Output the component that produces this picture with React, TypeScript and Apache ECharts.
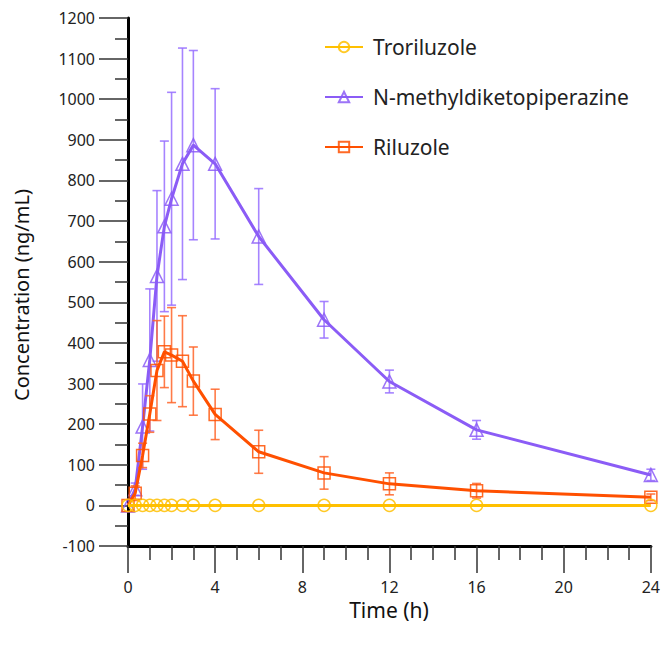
import React, { useEffect, useRef } from "react";
import * as echarts from "echarts";

const times = [0, 0.33, 0.67, 1, 1.33, 1.67, 2, 2.5, 3, 4, 6, 9, 12, 16, 24];
const troriluzole = [0, 0, 0, 0, 0, 0, 0, 0, 0, 0, 0, 0, 0, 0, 0];
const troriluzoleSd = [0, 0, 0, 0, 0, 0, 0, 0, 0, 0, 0, 0, 0, 0, 0];
const nmdkp = [0, 40, 194, 358, 565, 687, 755, 841, 887, 841, 662, 457, 305, 186, 75];
const nmdkpSd = [0, 15, 105, 175, 210, 210, 262, 285, 233, 185, 118, 45, 28, 23, 14];
const riluzole = [0, 30, 123, 225, 332, 378, 370, 355, 306, 224, 132, 80, 53, 36, 20];
const riluzoleSd = [0, 18, 30, 45, 123, 88, 117, 112, 84, 62, 53, 40, 27, 18, 8];

const seriesNames = ["Troriluzole", "N-methyldiketopiperazine", "Riluzole"];
const xTicks = { min: 0, max: 24, interval: 4 };
const yTicks = { min: -100, max: 1200, interval: 100 };

const FONT = "Noto Sans";

const colors = {
  tro: "#FFC000",
  nm: "#8B5CF6",
  ril: "#FF5000",
};
const barColors = {
  tro: "rgba(255,192,0,0.8)",
  nm: "rgba(150,110,255,0.85)",
  ril: "rgba(255,100,40,0.85)",
};

function lineSeries(name: string, values: number[], color: string, symbol: string, z: number) {
  return {
    name,
    type: "line",
    data: times.map((t, i) => [t, values[i]]),
    symbol,
    symbolSize: symbol === "triangle" ? 13 : 12,
    showSymbol: true,
    z,
    lineStyle: { color, width: 3 },
    itemStyle: { color: "rgba(255,255,255,0)", borderColor: color, borderWidth: 1.5, opacity: 0.85 },
    emphasis: { disabled: true },
  };
}

function errorSeries(name: string, values: number[], sds: number[], color: string, z: number) {
  return {
    name,
    type: "custom",
    z,
    data: times.map((t, i) => [t, values[i] - sds[i], values[i] + sds[i], sds[i]]),
    renderItem: (params: any, api: any) => {
      if (api.value(3) <= 0) return { type: "group", children: [] };
      const lo = api.coord([api.value(0), api.value(1)]);
      const hi = api.coord([api.value(0), api.value(2)]);
      const hw = 4.5;
      const style = { stroke: color, lineWidth: 1.6, fill: "none" };
      return {
        type: "group",
        children: [
          { type: "line", shape: { x1: lo[0], y1: lo[1], x2: hi[0], y2: hi[1] }, style },
          { type: "line", shape: { x1: hi[0] - hw, y1: hi[1], x2: hi[0] + hw, y2: hi[1] }, style },
          { type: "line", shape: { x1: lo[0] - hw, y1: lo[1], x2: lo[0] + hw, y2: lo[1] }, style },
        ],
      };
    },
    silent: true,
  };
}

export default function App() {
  const ref = useRef<HTMLDivElement>(null);
  useEffect(() => {
    if (!ref.current) return;
    const chart = echarts.init(ref.current, undefined, { renderer: "svg" });
    chart.setOption({
      animation: false,
      backgroundColor: "#fff",
      textStyle: { fontFamily: FONT },
      grid: { left: 128, right: 9, top: 18, bottom: 99, containLabel: false },
      legend: {
        data: seriesNames,
        orient: "vertical",
        left: 319,
        top: 30,
        itemGap: 26,
        itemWidth: 38,
        itemHeight: 13,
        textStyle: { fontSize: 21, color: "#222", fontFamily: FONT, lineHeight: 24, padding: [0, 0, 0, 5] },
        selectedMode: false,
      },
      graphic: [
        {
          type: "text",
          x: 21,
          y: 295,
          rotation: Math.PI / 2,
          style: {
            text: "Concentration (ng/mL)",
            fontSize: 20,
            fontFamily: FONT,
            fill: "#111",
            align: "center",
            verticalAlign: "middle",
          },
        },
        {
          type: "text",
          x: 389,
          y: 610,
          style: {
            text: "Time (h)",
            fontSize: 21,
            fontFamily: FONT,
            fill: "#111",
            align: "center",
            verticalAlign: "middle",
          },
        },
      ],
      xAxis: {
        type: "value",
        min: xTicks.min,
        max: xTicks.max,
        interval: xTicks.interval,
        axisLine: { show: true, onZero: false, lineStyle: { color: "#000", width: 3 } },
        axisTick: { show: true, length: 27, lineStyle: { color: "#333", width: 1.5 } },
        minorTick: { show: true, splitNumber: 4, length: 14, lineStyle: { color: "#333", width: 1.5 } },
        splitLine: { show: false },
        axisLabel: { fontSize: 16, color: "#222", margin: 33, fontFamily: FONT },
      },
      yAxis: {
        type: "value",
        min: yTicks.min,
        max: yTicks.max,
        interval: yTicks.interval,
        axisLine: { show: true, onZero: false, lineStyle: { color: "#000", width: 3 } },
        axisTick: { show: true, length: 29, lineStyle: { color: "#333", width: 1.5 } },
        minorTick: { show: true, splitNumber: 2, length: 13, lineStyle: { color: "#333", width: 1.5 } },
        splitLine: { show: false },
        axisLabel: {
          fontSize: 16,
          color: "#222",
          margin: 33,
          fontFamily: FONT,
          formatter: (v: number) => String(v),
        },
      },
      series: [
        errorSeries("tro-err", troriluzole, troriluzoleSd, barColors.tro, 2),
        errorSeries("nm-err", nmdkp, nmdkpSd, barColors.nm, 2),
        errorSeries("ril-err", riluzole, riluzoleSd, barColors.ril, 4),
        lineSeries(seriesNames[1], nmdkp, colors.nm, "triangle", 3),
        lineSeries(seriesNames[2], riluzole, colors.ril, "rect", 5),
        lineSeries(seriesNames[0], troriluzole, colors.tro, "circle", 6),
      ],
    });
    return () => chart.dispose();
  }, []);
  return (
    <div
      ref={ref}
      style={{ position: "fixed", left: 0, top: 0, width: 663, height: 645 }}
    />
  );
}
